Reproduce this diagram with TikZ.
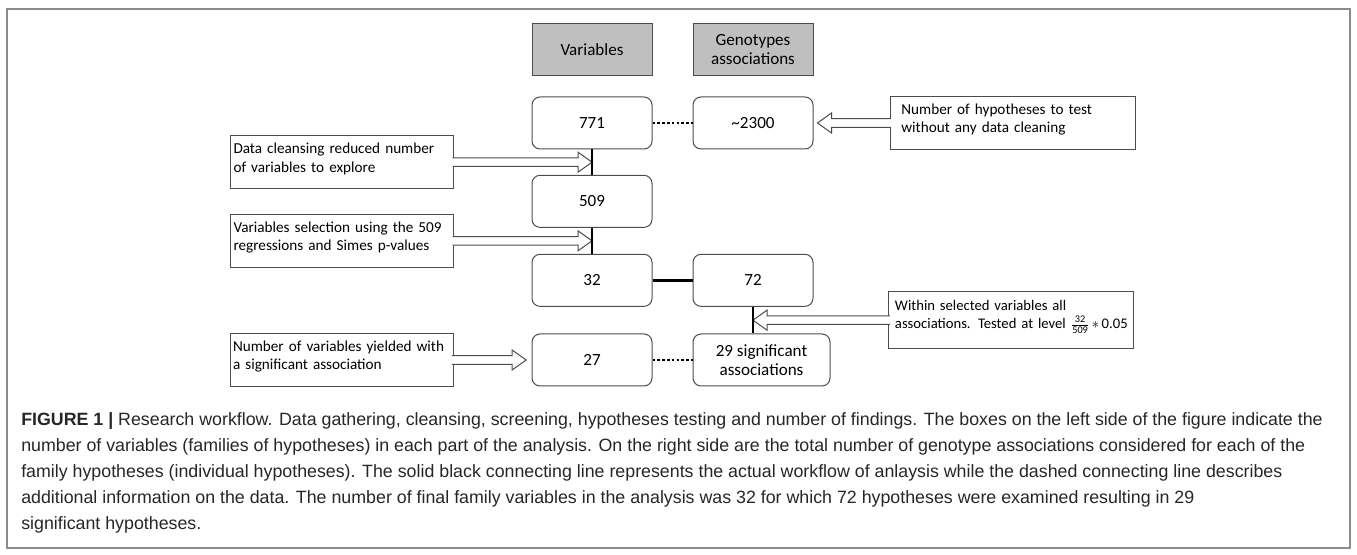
\documentclass[tikz,border=0pt]{standalone}
\usepackage{amsmath}
\usepackage{fontspec}
\setmainfont{Carlito}
\newfontfamily\captionfont{Liberation Sans}
\usepackage{tikz}
\usetikzlibrary{positioning,calc}

\definecolor{framegray}{HTML}{8C8C8C}
\definecolor{headgray}{HTML}{BFBFBF}

\tikzset{
  numbox/.style={draw=black!70, line width=0.75pt, rounded corners=6pt, minimum width=90pt, minimum height=39pt, align=center, font=\fontsize{12.8}{14.5}\selectfont},
  headbox/.style={draw=black!70, fill=headgray, line width=0.75pt, minimum width=90pt, minimum height=39.5pt, align=center, font=\fontsize{12.8}{14.5}\selectfont},
  note/.style={draw=black!70, fill=white, line width=0.75pt, align=left, text width=163pt, inner xsep=2pt, minimum height=40pt, font=\fontsize{11.4}{14}\selectfont},
  rnote/.style={note, text width=166.75pt, inner xsep=8.5pt},
  flow/.style={line width=2pt},
  info/.style={line width=2pt, dash pattern=on 2pt off 1.6pt},
  captext/.style={align=left, inner sep=0pt, text=black!85, font=\captionfont\fontsize{13.35}{19.5}\selectfont}
}

% open block arrow from #1 to the tip #2 (horizontal)
\newcommand{\hollowarrow}[2]{%
  \draw[draw=black!70, fill=white, line width=0.75pt]
    let \p1=(#1), \p2=(#2), \n1={ifthenelse(\x2>\x1,1,-1)} in
    ({\x1-(\n1)*1pt},{\y2+3.2pt}) -- ({\x2-(\n1)*10.5pt},{\y2+3.2pt}) -- ({\x2-(\n1)*10.5pt},{\y2+7.5pt})
    -- (\x2,\y2) -- ({\x2-(\n1)*10.5pt},{\y2-7.5pt}) -- ({\x2-(\n1)*10.5pt},{\y2-3.2pt}) -- ({\x1-(\n1)*1pt},{\y2-3.2pt});}
% pushes the note text a little up
\newcommand{\lift}{\par\vspace{5pt}\hrule height 0pt}

\begin{document}
\begin{tikzpicture}[x=0.75pt, y=-0.75pt, node distance=19pt and 30pt]
  \useasboundingbox (0,0) rectangle (1357,555);
  \draw[framegray, line width=1pt] (7,9) rectangle (1350,548);

  \node[numbox] (n771) at (592,123) {771};
  \node[numbox] (n2300) [right=of n771] {\textasciitilde2300};
  \node[headbox] (hvar) [above=15pt of n771] {Variables};
  \node[headbox] (hgen) [above=15pt of n2300] {Genotypes\\associations};
  \node[numbox] (n509) [below=of n771] {509};
  \node[numbox] (n32) [below=19.5pt of n509] {32};
  \node[numbox] (n72) [right=of n32] {72};
  \node[numbox] (n27) [below=20pt of n32] {27};
  \node[numbox, minimum width=102.75pt] (nsig) [right=of n27] {29 significant\\associations};

  \coordinate (c1) at ($(n771.south)!0.5!(n509.north)$);
  \coordinate (c2) at ($(n509.south)!0.5!(n32.north)$);
  \coordinate (s72) at (n72.south |- nsig.north);
  \coordinate (c3) at ($(n72.south)!0.5!(s72)$);
  \coordinate (t1) at ($(n2300.east)+(3pt,0)$);
  \coordinate (t4) at ($(n27.west)+(-4pt,0)$);

  \node[note] (cleanse) [left=103.5pt of c1] {Data cleansing reduced number\\of variables to explore\lift};
  \node[note] (select) [left=103.5pt of c2] {Variables selection using the 509\\regressions and Simes p-values\lift};
  \node[note] (yield) [left=58.5pt of n27] {Number of variables yielded with\\a significant association\lift};
  \node[rnote] (hyptest) [right=57pt of n2300] {Number of hypotheses to test\\without any data cleaning\lift};
  \node[rnote, text width=174.75pt, inner xsep=4.5pt, minimum height=42.75pt, font=\fontsize{11}{14}\selectfont] (within) [right=101.6pt of c3] {Within selected variables all\\\mbox{associations. Tested at level $\frac{\text{32}}{\text{509}}$\,$\ast$\,0.05}\lift};

  \hollowarrow{cleanse.east}{c1}
  \hollowarrow{select.east}{c2}
  \hollowarrow{yield.east}{t4}
  \hollowarrow{hyptest.west}{t1}
  \hollowarrow{within.west}{c3}

  \draw[flow] (n771) -- (n509);
  \draw[flow] (n509) -- (n32);
  \draw[flow] (n32) -- (n72);
  \draw[flow] (n72.south) -- (s72);
  \draw[info] (n771) -- (n2300);
  \draw[info] (n27) -- (nsig);

  \node[captext, anchor=north west] (caption) at (21,412) {\textbf{FIGURE 1 |} Research workflow. Data gathering, cleansing, screening, hypotheses testing and number of findings. The boxes on the left side of the figure indicate the\\
number of variables (families of hypotheses) in each part of the analysis. On the right side are the total number of genotype associations considered for each of the\\
family hypotheses (individual hypotheses). The solid black connecting line represents the actual workflow of anlaysis while the dashed connecting line describes\\
additional information on the data. The number of final family variables in the analysis was 32 for which 72 hypotheses were examined resulting in 29\\
significant hypotheses.};
\end{tikzpicture}
\end{document}
